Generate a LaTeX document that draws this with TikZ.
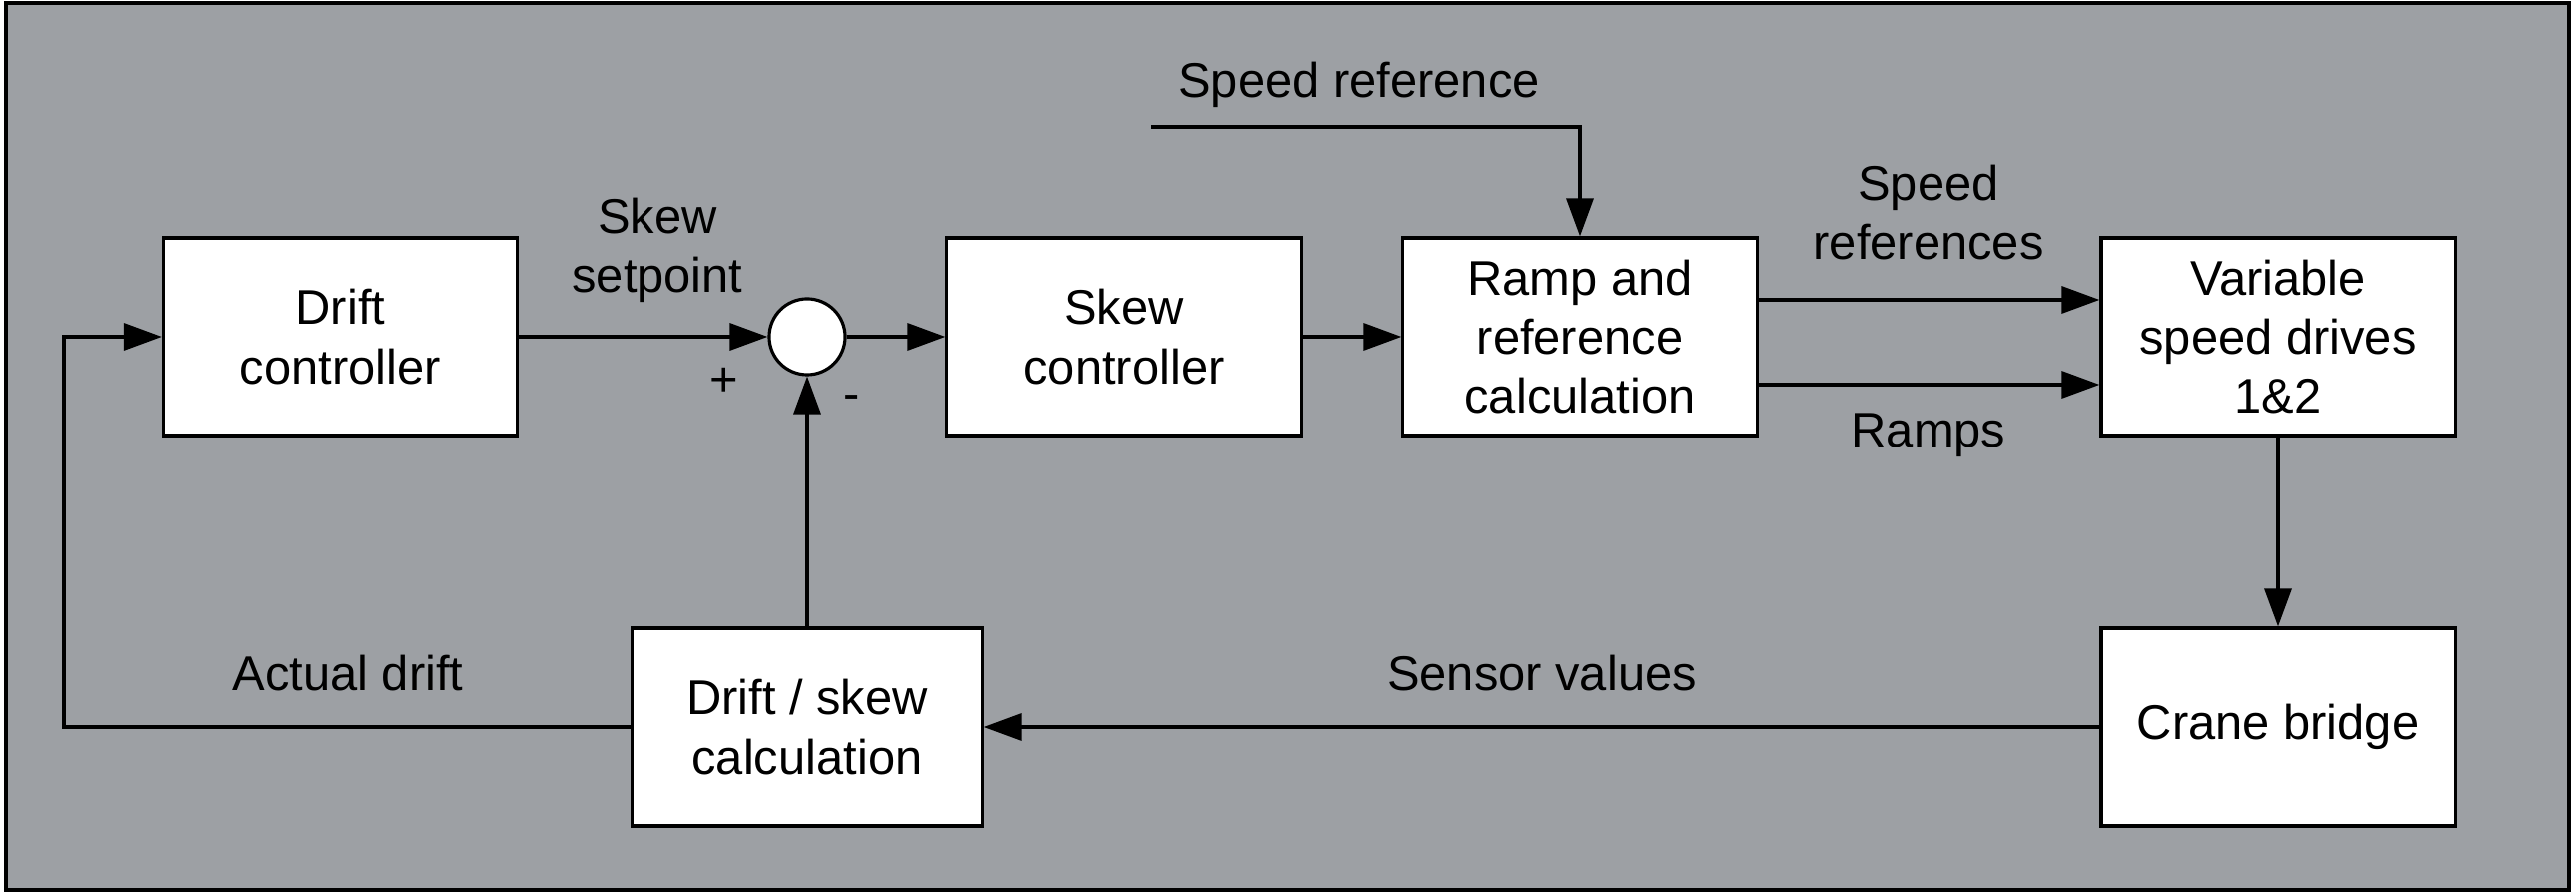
\documentclass[tikz,border=0pt]{standalone}
\usepackage{fontspec}
\setmainfont{Liberation Sans}
\usetikzlibrary{arrows.meta}
\definecolor{bggray}{RGB}{157,160,164}
\begin{document}
\begin{tikzpicture}[x=0.01cm,y=-0.01cm,
  every node/.style={font=\fontsize{13.9pt}{16.8pt}\selectfont, text=black},
  blockbox/.style={draw, fill=white, line width=0.9pt, minimum width=3.54cm, minimum height=1.98cm, inner sep=0pt, align=center},
  sumnode/.style={draw, fill=white, circle, line width=0.9pt, minimum size=0.76cm, inner sep=0pt},
  arr/.style={line width=0.9pt, -{Triangle[length=10.8pt,width=7.7pt]}},
  plain/.style={line width=0.9pt},
  lbl/.style={align=center, inner sep=0pt}]
\useasboundingbox (0,0) rectangle (2578,895);
\draw[line width=1.3pt, fill=bggray] (6,3) rectangle (2571,891);

% blocks
\node[blockbox] (dc) at (340.5,337) {Drift\\controller};
\node[sumnode] (sum) at (808,337) {};
\node[blockbox] (sc) at (1125,337) {Skew\\controller};
\node[blockbox] (rr) at (1581,337) {Ramp and\\reference\\calculation};
\node[blockbox] (vsd) at (2280,337) {Variable\\speed drives\\1\&2};
\node[blockbox] (cb) at (2280,728) {Crane bridge};
\node[blockbox, minimum width=3.50cm] (ds) at (808,728) {Drift / skew\\calculation};

% free ends
\coordinate (sr) at (1152,127);
\coordinate (fb) at (64,728);

% connectors
\draw[arr] (dc) -- (sum);
\draw[arr] (sum) -- (sc);
\draw[arr] (sc) -- (rr);
\draw[arr] (rr.east |- 0,300) -- (vsd.west |- 0,300);
\draw[arr] (rr.east |- 0,385) -- (vsd.west |- 0,385);
\draw[arr] (sr) -| (rr.north);
\draw[arr] (vsd) -- (cb);
\draw[arr] (cb) -- (ds);
\draw[arr] (ds) -- (sum);
\draw[arr] (ds.west) -- (fb) |- (dc.west);

% labels
\node[lbl, anchor=base] (lsr) at (1360,98) {Speed reference};
\node[lbl] (lsp) at (658,250) {Skew\\setpoint};
\node[lbl] (lplus) at (725,382) {+};
\node[lbl] (lminus) at (853,403) {-};
\node[lbl] (lsrs) at (1930,212.5) {Speed\\references};
\node[lbl, anchor=base] (lramps) at (1930,448) {Ramps};
\node[lbl, anchor=base] (lad) at (348,692) {Actual drift};
\node[lbl, anchor=base] (lsv) at (1543,692) {Sensor values};
\end{tikzpicture}
\end{document}
